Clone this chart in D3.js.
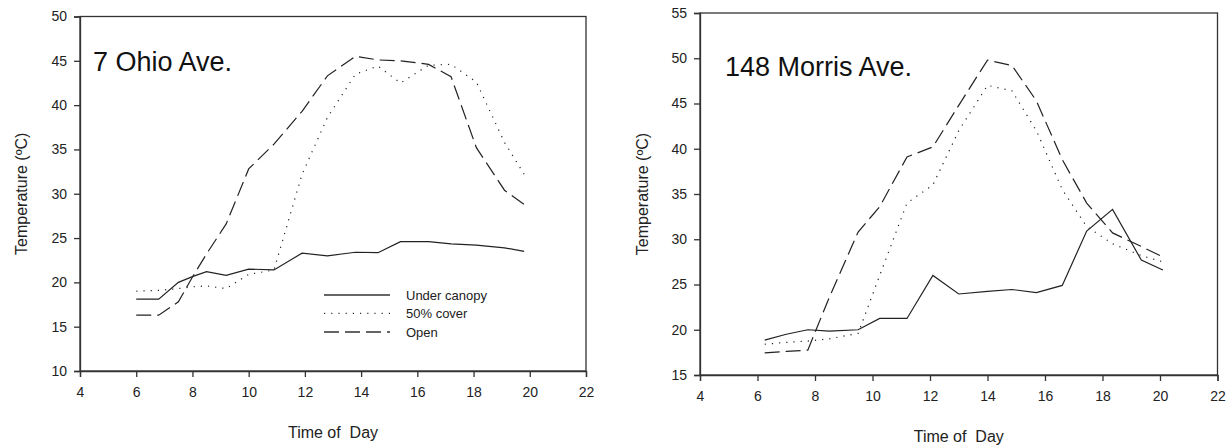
<!DOCTYPE html>
<html>
<head>
<meta charset="utf-8">
<script src="https://cdn.jsdelivr.net/npm/d3@7"></script>
<style>
    body { margin: 0; background: #fff; }
    svg { display: block; font-family: "Liberation Sans", Arial, sans-serif; }
    .axis text { font-size: 14px; fill: #222; }
    .axis line, .axis path { stroke: #333; stroke-width: 1.3; }
</style>
</head>
<body>
<div id="chart"></div>
<script>
// 7 Ohio Ave.
const ohioHours = [6.0, 6.8, 7.5, 8.0, 8.5, 9.2, 10.0, 10.9, 11.9, 12.8, 13.8, 14.6, 15.4, 16.4, 17.2, 18.1, 19.1, 19.8];
const ohioCanopy = [18.1, 18.1, 20.0, 20.65, 21.2, 20.8, 21.5, 21.4, 23.3, 23.0, 23.4, 23.35, 24.6, 24.6, 24.35, 24.2, 23.9, 23.5];
const ohioCover = [19.0, 19.1, 19.3, 19.5, 19.6, 19.3, 20.9, 21.4, 32.2, 38.6, 43.5, 44.4, 42.5, 44.5, 44.6, 42.6, 35.8, 32.2];
const ohioOpen = [16.3, 16.3, 17.8, 20.6, 23.2, 26.6, 32.8, 35.6, 39.3, 43.3, 45.5, 45.1, 45.0, 44.6, 43.2, 35.2, 30.4, 28.8];

// 148 Morris Ave.
const morrisHours = [6.25, 7.0, 7.75, 8.5, 9.5, 10.25, 11.2, 12.1, 13.0, 14.0, 14.85, 15.7, 16.6, 17.45, 18.35, 19.35, 20.1];
const morrisCanopy = [18.85, 19.5, 20.0, 19.85, 20.0, 21.25, 21.25, 26.0, 23.95, 24.25, 24.45, 24.1, 24.9, 30.9, 33.3, 27.7, 26.6];
const morrisCover = [18.4, 18.6, 18.75, 19.0, 19.6, 26.0, 34.0, 36.0, 42.0, 47.0, 46.4, 42.0, 35.5, 31.4, 29.5, 28.2, 27.5];
const morrisOpen = [17.45, 17.6, 17.75, 23.6, 30.8, 33.6, 39.1, 40.2, 44.8, 49.8, 49.2, 45.3, 38.8, 34.0, 30.7, 29.2, 28.05];

const xTicks = [4, 6, 8, 10, 12, 14, 16, 18, 20, 22];
const seriesNames = ["Under canopy", "50% cover", "Open"];
const dashes = [null, "1.2,6", "15,6"];

const width = 1228, height = 446;

const svg = d3.select("#chart")
    .append("svg")
    .attr("width", width)
    .attr("height", height);

const panels = [
    {
        title: "7 Ohio Ave.",
        hours: ohioHours,
        series: [ohioCanopy, ohioCover, ohioOpen],
        yDomain: [10, 50],
        left: 80, right: 586, top: 16.5, bottom: 371,
        titleX: 93, titleY: 71,
        yLabelX: 27, xLabelY: 438,
        legend: true
    },
    {
        title: "148 Morris Ave.",
        hours: morrisHours,
        series: [morrisCanopy, morrisCover, morrisOpen],
        yDomain: [15, 55],
        left: 700, right: 1217.5, top: 13, bottom: 375,
        titleX: 725, titleY: 76,
        yLabelX: 648, xLabelY: 442,
        legend: false
    }
];

panels.forEach(function(p) {
    const x = d3.scaleLinear().domain([4, 22]).range([p.left, p.right]);
    const y = d3.scaleLinear().domain(p.yDomain).range([p.bottom, p.top]);
    const g = svg.append("g");

    // frame
    g.append("rect")
        .attr("x", p.left)
        .attr("y", p.top)
        .attr("width", p.right - p.left)
        .attr("height", p.bottom - p.top)
        .attr("fill", "none")
        .attr("stroke", "#333")
        .attr("stroke-width", 1.3);

    g.append("g")
        .attr("class", "axis")
        .attr("transform", `translate(0, ${p.bottom})`)
        .call(d3.axisBottom(x).tickValues(xTicks).tickSizeOuter(0).tickSize(6).tickPadding(10));

    g.append("g")
        .attr("class", "axis")
        .attr("transform", `translate(${p.left}, 0)`)
        .call(d3.axisLeft(y).ticks(8).tickSizeOuter(0).tickSize(6).tickPadding(7));

    const line = d3.line()
        .x((d, i) => x(p.hours[i]))
        .y(d => y(d));

    p.series.forEach(function(s, k) {
        g.append("path")
            .datum(s)
            .attr("d", line)
            .attr("fill", "none")
            .attr("stroke", "#222")
            .attr("stroke-width", 1.2)
            .attr("stroke-dasharray", dashes[k]);
    });

    g.append("text")
        .attr("x", p.titleX)
        .attr("y", p.titleY)
        .attr("font-size", 27)
        .attr("fill", "#111")
        .text(p.title);

    g.append("text")
        .attr("x", (p.left + p.right) / 2)
        .attr("y", p.xLabelY)
        .attr("text-anchor", "middle")
        .attr("font-size", 16)
        .attr("fill", "#222")
        .attr("xml:space", "preserve")
        .text("Time of  Day");

    g.append("text")
        .attr("transform", `translate(${p.yLabelX}, ${(p.top + p.bottom) / 2}) rotate(-90)`)
        .attr("text-anchor", "middle")
        .attr("font-size", 16)
        .attr("fill", "#222")
        .text("Temperature (ºC)");

    if (p.legend) {
        const rows = [295, 313.3, 332];
        seriesNames.forEach(function(name, k) {
            g.append("line")
                .attr("x1", 324).attr("x2", 390)
                .attr("y1", rows[k]).attr("y2", rows[k])
                .attr("stroke", "#333")
                .attr("stroke-width", 1.3)
                .attr("stroke-dasharray", dashes[k]);
            g.append("text")
                .attr("x", 406)
                .attr("y", rows[k])
                .attr("dy", "0.35em")
                .attr("font-size", 13)
                .attr("fill", "#222")
                .text(name);
        });
    }
});
</script>
</body>
</html>
